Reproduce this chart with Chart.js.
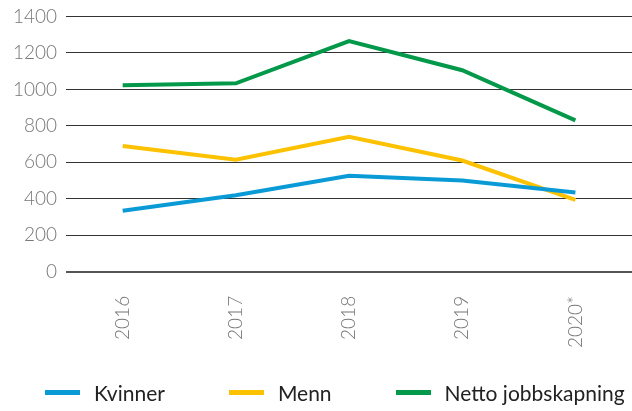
<!DOCTYPE html>
<html>
<head>
<meta charset="utf-8">
<script src="https://cdn.jsdelivr.net/npm/chart.js@4"></script>
<style>
  html, body { margin: 0; padding: 0; background: #fff; }
  #wrap { position: relative; width: 632px; height: 411px; overflow: hidden; }
  #chart { position: absolute; left: 0; top: -4px; }
  #legend {
    position: absolute; left: 45px; top: 380px;
    display: flex; align-items: center;
    font-family: Lato, sans-serif; font-size: 21px; color: #222;
  }
  #legend .item { display: flex; align-items: center; margin-right: 64px; }
  #legend .item:last-child { margin-right: 0; }
  #legend .box { width: 35px; height: 5px; margin-right: 14px; }
</style>
</head>
<body>
<div id="wrap">
  <canvas id="chart" width="632" height="415"></canvas>
  <div id="legend"></div>
</div>
<script>
const years = ['2016', '2017', '2018', '2019', '2020*'];
const kvinner = [335, 420, 527, 500, 435];
const menn = [690, 615, 740, 610, 395];
const netto = [1022, 1033, 1265, 1105, 830];

const colors = {
    kvinner: '#0a9bd7',
    menn: '#fcc200',
    netto: '#04994a'
}

const ctx = document.getElementById('chart').getContext('2d');
const chart = new Chart(ctx, {
    type: 'line',
    data: {
        labels: years,
        datasets: [
            { label: 'Kvinner', data: kvinner, borderColor: colors.kvinner, backgroundColor: colors.kvinner },
            { label: 'Menn', data: menn, borderColor: colors.menn, backgroundColor: colors.menn },
            { label: 'Netto jobbskapning', data: netto, borderColor: colors.netto, backgroundColor: colors.netto }
        ]
    },
    options: {
        responsive: false,
        animation: false,
        layout: { padding: { top: 0, left: 4, right: 0, bottom: 47 } },
        elements: {
            line: { borderWidth: 4, tension: 0, borderCapStyle: 'butt' },
            point: { radius: 0 }
        },
        plugins: {
            legend: { display: false },
            tooltip: { enabled: false }
        },
        scales: {
            x: {
                offset: true,
                grid: { display: false },
                border: { display: false },
                ticks: {
                    color: '#777',
                    font: { family: 'Lato', size: 19, weight: 300 },
                    minRotation: 90,
                    maxRotation: 90,
                    padding: 16
                }
            },
            y: {
                min: 0,
                max: 1400,
                border: { display: false },
                grid: {
                    drawTicks: false,
                    color: c => c.tick.value === 0 ? '#555' : '#333',
                    lineWidth: c => c.tick.value === 0 ? 2 : 1
                },
                ticks: {
                    stepSize: 200,
                    color: '#777',
                    padding: 9,
                    font: { family: 'Lato', size: 19, weight: 300 },
                    callback: v => String(v)
                }
            }
        }
    }
});

// legend as html
const legend = document.getElementById('legend');
chart.data.datasets.forEach(ds => {
    const item = document.createElement('div');
    item.className = 'item';
    const box = document.createElement('span');
    box.className = 'box';
    box.style.background = ds.borderColor;
    const txt = document.createElement('span');
    txt.textContent = ds.label;
    item.appendChild(box);
    item.appendChild(txt);
    legend.appendChild(item);
});
</script>
</body>
</html>
